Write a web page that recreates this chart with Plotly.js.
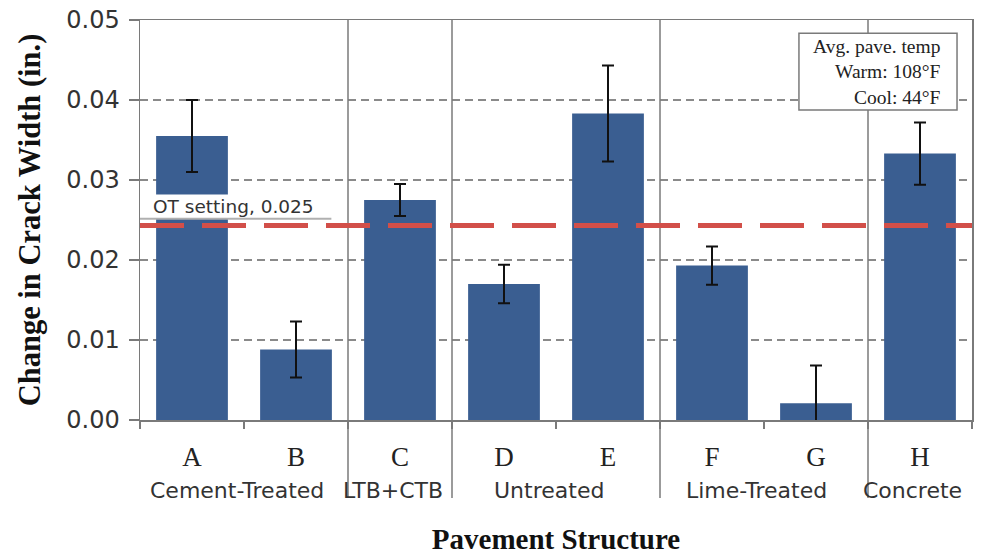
<!DOCTYPE html>
<html>
<head>
<meta charset="utf-8">
<script src="https://cdn.plot.ly/plotly-3.0.1.min.js"></script>
<style>html,body{margin:0;padding:0;background:#fff;}#chart{width:989px;height:555px;}</style>
</head>
<body>
<div id="chart"></div>
<script>
// ---- data ----
const categories = ['A', 'B', 'C', 'D', 'E', 'F', 'G', 'H'];
const crackWidth = [0.0355, 0.0088, 0.0275, 0.0170, 0.0383, 0.0193, 0.0021, 0.0333];
const errorBars = [0.0045, 0.0035, 0.0020, 0.0024, 0.0060, 0.0024, 0.0047, 0.0039];
const groupNames = ['Cement-Treated', 'LTB+CTB', 'Untreated', 'Lime-Treated', 'Concrete'];
const groupSizes = [2, 1, 2, 2, 1];
const otSettingValue = 0.0243;
const otSettingLabel = 'OT setting, 0.025';
const tempLegendLines = ['Avg. pave. temp', 'Warm: 108°F', 'Cool: 44°F'];
const yTicks = [0, 0.01, 0.02, 0.03, 0.04, 0.05];

// ---- styles ----
const barColor = '#3a5e91';
const gridGrey = '#8a8a8a';
const axisGrey = '#7a7a7a';
const sansFont = 'DejaVu Sans, sans-serif';
const serifFont = 'Liberation Serif, Times New Roman, serif';

const trace = {
  type: 'bar',
  x: categories,
  y: crackWidth,
  marker: {color: barColor},
  width: 0.69,
  error_y: {type: 'data', array: errorBars, visible: true, color: '#111', thickness: 2, width: 6},
  hoverinfo: 'x+y'
};

// group separators and group label positions from group sizes
const shapes = [];
const annotations = [];
let start = 0;
groupSizes.forEach((n, i) => {
  const mid = start + (n - 1) / 2;
  annotations.push({
    xref: 'x', yref: 'paper', x: mid - 0.07, y: -0.175,
    text: groupNames[i], showarrow: false,
    font: {family: sansFont, size: 22, color: '#333'},
    xanchor: 'center', yanchor: 'middle'
  });
  if (i < groupSizes.length - 1) {
    shapes.push({
      type: 'line', xref: 'x', yref: 'paper',
      x0: start + n - 0.5, x1: start + n - 0.5, y0: 1, y1: -0.195,
      line: {color: axisGrey, width: 1.5}, layer: 'above'
    });
  }
  start += n;
});

// OT setting threshold line
shapes.push({
  type: 'line', xref: 'paper', yref: 'y',
  x0: 0, x1: 1, y0: otSettingValue, y1: otSettingValue,
  line: {color: '#d24f49', width: 5, dash: '44px,18px'}, layer: 'above'
});
// white label box behind OT text
shapes.push({
  type: 'rect', xref: 'paper', yref: 'y',
  x0: 0, x1: 0.23, y0: 0.02515, y1: 0.0282,
  fillcolor: '#fff', line: {width: 0}, layer: 'above'
});
shapes.push({
  type: 'line', xref: 'paper', yref: 'y',
  x0: 0, x1: 0.23, y0: 0.02515, y1: 0.02515,
  line: {color: '#b0b0b0', width: 2}, layer: 'above'
});
annotations.push({
  xref: 'paper', yref: 'y', x: 0.112, y: 0.0267,
  text: otSettingLabel, showarrow: false,
  font: {family: sansFont, size: 18.5, color: '#333'},
  xanchor: 'center', yanchor: 'middle'
});

// temperature legend box
shapes.push({
  type: 'rect', xref: 'paper', yref: 'paper',
  x0: 0.792, x1: 0.982, y0: 0.775, y1: 0.967,
  fillcolor: '#fff', line: {color: axisGrey, width: 1.5}, layer: 'above'
});
annotations.push({
  xref: 'paper', yref: 'paper', x: 0.965, y: 0.871,
  text: tempLegendLines.join('<br>'), showarrow: false, align: 'right',
  font: {family: serifFont, size: 19.5, color: '#222'},
  xanchor: 'right', yanchor: 'middle'
});

const layout = {
  width: 989, height: 555,
  margin: {l: 140, r: 17, t: 20, b: 135},
  paper_bgcolor: '#fff', plot_bgcolor: '#fff',
  showlegend: false,
  xaxis: {
    type: 'category',
    categoryarray: categories,
    range: [-0.5, categories.length - 0.5],
    showline: true, linecolor: axisGrey, linewidth: 1.5, mirror: true,
    ticks: 'outside', tickson: 'boundaries', ticklen: 7, tickcolor: axisGrey, tickwidth: 1.5,
    tickfont: {family: serifFont, size: 27, color: '#222'},
    ticklabelstandoff: 12,
    showgrid: false,
    title: {text: 'Pavement Structure', font: {family: serifFont, size: 29, color: '#111', weight: 'bold'}, standoff: 58}
  },
  yaxis: {
    range: [0, 0.05],
    tickvals: yTicks,
    tickformat: '.2f',
    showline: true, linecolor: axisGrey, linewidth: 1.5, mirror: true,
    ticks: 'outside', ticklen: 10, tickcolor: axisGrey, tickwidth: 1.5,
    tickfont: {family: sansFont, size: 24, color: '#333'},
    ticklabelstandoff: 4,
    showgrid: true, gridcolor: gridGrey, gridwidth: 1.2, griddash: '8px,5px',
    zeroline: false,
    title: {text: 'Change in Crack Width (in.)', font: {family: serifFont, size: 30.5, color: '#111', weight: 'bold'}, standoff: 16}
  },
  shapes: shapes,
  annotations: annotations
};

Plotly.newPlot('chart', [trace], layout, {displayModeBar: false, staticPlot: true});
</script>
</body>
</html>
